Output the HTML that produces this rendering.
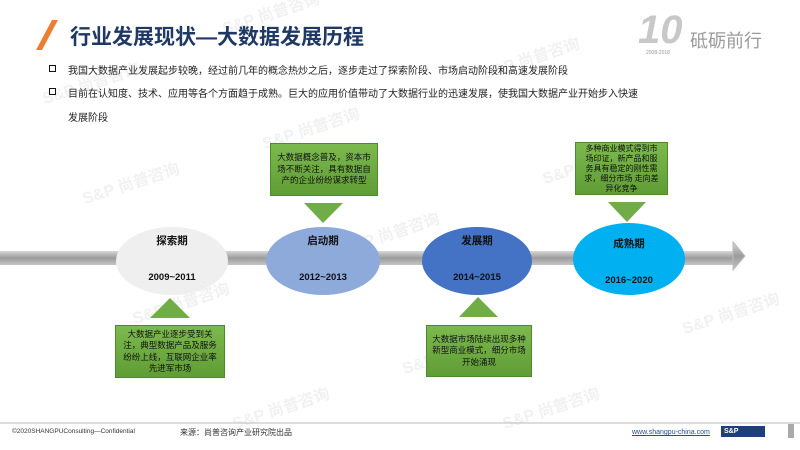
<!DOCTYPE html>
<html><head><meta charset="utf-8"><style>
body{margin:0;width:800px;height:450px;background:#fff;overflow:hidden;position:relative;font-family:"Liberation Sans","Noto Sans CJK SC",sans-serif}
.a{position:absolute}
.bul{position:absolute;left:68px;font-size:10px;color:#222}
.bul:before{content:"";position:absolute;left:-19px;top:3px;width:5px;height:5px;border:1.5px solid #111}
.box{position:absolute;background:linear-gradient(#7cb94e,#5f9d35);border:1px solid #4e8a2a;color:#111;font-size:8.5px;line-height:11.5px;text-align:center;display:flex;align-items:center;justify-content:center;box-sizing:border-box;padding:2px 4px}
.wm{position:absolute;color:#f1f1f1;font-size:16px;font-weight:bold;transform:rotate(-18deg)}
</style></head><body>
<div class="wm" style="left:220px;top:0px">S&amp;P 尚普咨询</div>
<div class="wm" style="left:40px;top:70px">S&amp;P 尚普咨询</div>
<div class="wm" style="left:480px;top:45px">S&amp;P 尚普咨询</div>
<div class="wm" style="left:260px;top:115px">S&amp;P 尚普咨询</div>
<div class="wm" style="left:80px;top:170px">S&amp;P 尚普咨询</div>
<div class="wm" style="left:540px;top:150px">S&amp;P 尚普咨询</div>
<div class="wm" style="left:340px;top:220px">S&amp;P 尚普咨询</div>
<div class="wm" style="left:130px;top:290px">S&amp;P 尚普咨询</div>
<div class="wm" style="left:680px;top:300px">S&amp;P 尚普咨询</div>
<div class="wm" style="left:400px;top:340px">S&amp;P 尚普咨询</div>
<div class="wm" style="left:230px;top:395px">S&amp;P 尚普咨询</div>
<div class="wm" style="left:500px;top:395px">S&amp;P 尚普咨询</div>

<div class="a" style="left:44px;top:20px;width:6px;height:30px;background:#ed7d31;transform:skewX(-28deg)"></div>
<div class="a" style="left:70px;top:21px;font-size:21px;font-weight:bold;color:#1f3864">行业发展现状—大数据发展历程</div>
<div class="a" style="left:638px;top:8px;font-size:40px;font-weight:bold;color:#c8c8c8;font-style:italic">10</div>
<div class="a" style="left:646px;top:50px;font-size:5px;color:#999">2008-2018</div>
<div class="a" style="left:690px;top:27px;font-size:18px;color:#9a9a9a">砥砺前行</div>

<div class="bul" style="top:62px">我国大数据产业发展起步较晚，经过前几年的概念热炒之后，逐步走过了探索阶段、市场启动阶段和高速发展阶段</div>
<div class="bul" style="top:85px">目前在认知度、技术、应用等各个方面趋于成熟。巨大的应用价值带动了大数据行业的迅速发展，使我国大数据产业开始步入快速</div>
<div class="a" style="left:68px;top:109px;font-size:10px;color:#222">发展阶段</div>

<svg class="a" style="left:0;top:0" width="800" height="450">
<defs><linearGradient id="g" x1="0" y1="0" x2="0" y2="1"><stop offset="0" stop-color="#d8d8d8"/><stop offset="0.5" stop-color="#9c9c9c"/><stop offset="1" stop-color="#c4c4c4"/></linearGradient></defs>
<rect x="0" y="251" width="734" height="14" fill="url(#g)"/>
<polygon points="733,242 745,256 733,270" fill="url(#g)" stroke="#bbb"/>
<ellipse cx="172" cy="261" rx="56" ry="34" fill="#efefef"/>
<ellipse cx="323" cy="261" rx="57" ry="34" fill="#8eaadb"/>
<ellipse cx="477" cy="261" rx="55" ry="34" fill="#4472c4"/>
<ellipse cx="629" cy="259" rx="56" ry="36" fill="#00b0f0"/>
<polygon points="304,203 343,203 323,223" fill="#70ad47"/>
<polygon points="608,202 646,202 627,222" fill="#70ad47"/>
<polygon points="150,318 190,318 170,298" fill="#70ad47"/>
<polygon points="459,317 498,317 478,297" fill="#70ad47"/>
<g font-weight="bold" font-size="10.5" text-anchor="middle" fill="#111">
<text x="172" y="244">探索期</text><text x="172" y="280" font-size="9.5">2009~2011</text>
<text x="323" y="244">启动期</text><text x="323" y="280" font-size="9.5">2012~2013</text>
<text x="477" y="244">发展期</text><text x="477" y="280" font-size="9.5">2014~2015</text>
<text x="629" y="247">成熟期</text><text x="629" y="283" font-size="9.5">2016~2020</text>
</g>
<line x1="0" y1="423" x2="800" y2="423" stroke="#bbb"/>
</svg>

<div class="box" style="left:270px;top:143px;width:108px;height:53px">大数据概念普及，资本市场不断关注，具有数据自产的企业纷纷谋求转型</div>
<div class="box" style="left:575px;top:142px;width:93px;height:53px;font-size:8px;line-height:10px;padding:1px 6px">多种商业模式得到市场印证，新产品和服务具有稳定的刚性需求，细分市场 走向差异化竞争</div>
<div class="box" style="left:115px;top:325px;width:110px;height:53px">大数据产业逐步受到关注，典型数据产品及服务纷纷上线，互联网企业率先进军市场</div>
<div class="box" style="left:426px;top:325px;width:106px;height:52px">大数据市场陆续出现多种新型商业模式，细分市场开始涌现</div>

<div class="a" style="left:12px;top:428px;font-size:6.5px;color:#333">©2020SHANGPUConsulting—Confidential</div>
<div class="a" style="left:180px;top:427px;font-size:8px;color:#333">来源：尚普咨询产业研究院出品</div>
<div class="a" style="left:632px;top:429px;font-size:7px;color:#1f4e9a;text-decoration:underline">www.shangpu-china.com</div>
<div class="a" style="left:721px;top:426px;width:44px;height:11px;background:#1f3f7a;color:#fff;font-size:7px;font-weight:bold;line-height:11px;padding-left:3px;box-sizing:border-box">S&amp;P</div>
<div class="a" style="left:788px;top:424px;width:6px;height:14px;background:#aaa"></div>
</body></html>
